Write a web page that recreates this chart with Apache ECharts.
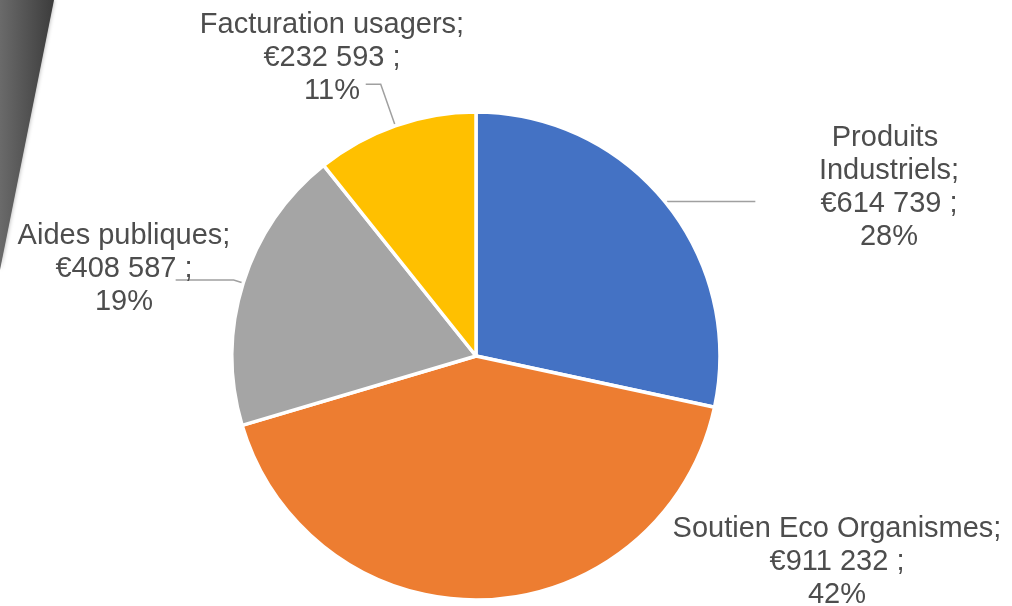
<!DOCTYPE html>
<html>
<head>
<meta charset="utf-8">
<title>Recettes</title>
<script src="https://cdn.jsdelivr.net/npm/echarts@6/dist/echarts.min.js"></script>
<style>
  html, body { margin: 0; padding: 0; background: #fff; }
  #main { width: 1012px; height: 606px; }
</style>
</head>
<body>
<div id="main"></div>
<script>
  // données
  var categories = ['Produits Industriels', 'Soutien Eco Organismes', 'Aides publiques', 'Facturation usagers'];
  var values = [614739, 911232, 408587, 232593];
  var colors = ['#4472C4', '#ED7D31', '#A5A5A5', '#FFC000'];

  // position des étiquettes (centre du bloc de texte) et des traits de rappel
  var labelPos = [[889, 187], [837, 562], [124, 269], [332, 58]];
  var lineLen = [[2, 88], [0, 0], [10, 58], [44, 15]];

  function euro(v) {
    return String(v).replace(/\B(?=(\d{3})+(?!\d))/g, ' ');
  }

  var chartData = categories.map(function (name, i) {
    var item = {
      name: name,
      value: values[i],
      itemStyle: { color: colors[i] },
      labelLine: { show: i !== 1, length: lineLen[i][0], length2: lineLen[i][1] }
    };
    if (i === 0) {
      item.label = { width: 170, overflow: 'break' };
    }
    return item;
  });

  var myChart = echarts.init(document.getElementById('main'));
  myChart.setOption({
    animation: false,
    backgroundColor: '#ffffff',
    graphic: [
      {
        type: 'polygon',
        z: -1,
        shape: { points: [[0, 0], [54, 0], [0, 270]] },
        style: {
          fill: {
            type: 'linear', x: 0, y: 0, x2: 1, y2: 0,
            colorStops: [
              { offset: 0, color: '#6a6a6a' },
              { offset: 1, color: '#3c3c3c' }
            ]
          },
          shadowBlur: 4,
          shadowColor: 'rgba(0,0,0,0.35)'
        }
      }
    ],
    series: [
      {
        type: 'pie',
        center: [476, 356],
        radius: 244,
        startAngle: 90,
        clockwise: true,
        percentPrecision: 0,
        avoidLabelOverlap: false,
        itemStyle: { borderColor: '#ffffff', borderWidth: 3.5 },
        label: {
          show: true,
          position: 'outside',
          fontFamily: 'Liberation Sans, Arial, sans-serif',
          fontSize: 29,
          lineHeight: 33,
          color: '#4d4d4d',
          formatter: function (p) {
            return p.name + ';\n€' + euro(p.value) + ' ;\n' + p.percent + '%';
          }
        },
        labelLine: {
          lineStyle: { color: '#a0a0a0', width: 1.5 }
        },
        labelLayout: function (p) {
          var pos = labelPos[p.dataIndex];
          return {
            x: pos[0],
            y: pos[1],
            align: 'center',
            verticalAlign: 'middle',
            labelLinePoints: p.labelLinePoints
          };
        },
        emphasis: { disabled: true },
        data: chartData
      }
    ]
  });
</script>
</body>
</html>
